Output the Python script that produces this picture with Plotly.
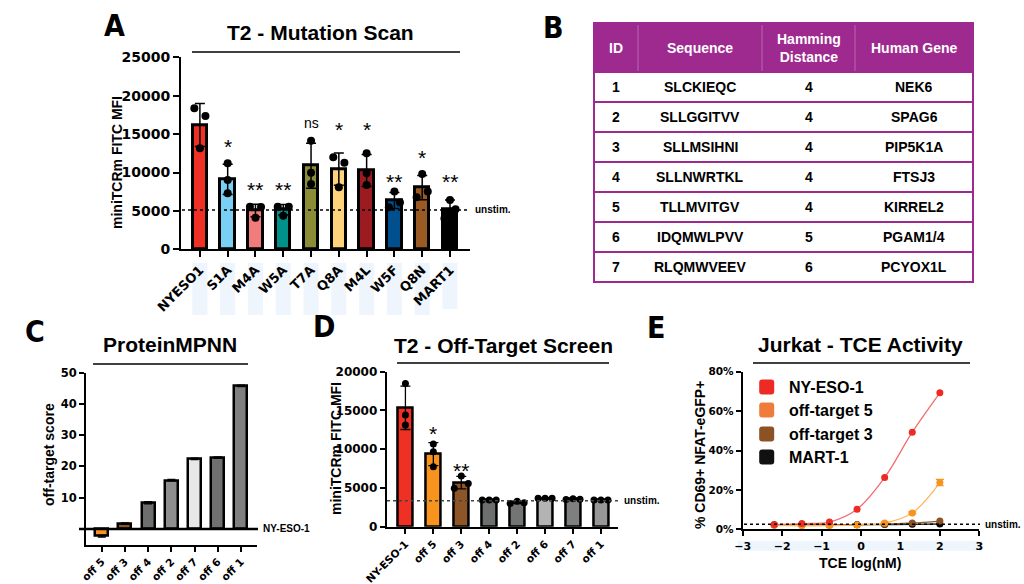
import plotly.graph_objects as go

W, H = 1024, 584
def px(x):
    return x / W
def py(y):
    return 1 - y / H

TICKF = "DejaVu Sans"
LABF = "Liberation Sans"

# ---------------- Panel A data ----------------
a_labels = ["NYESO1", "S1A", "M4A", "W5A", "T7A", "Q8A", "M4L", "W5F", "Q8N", "MART1"]
a_mean = [16190, 9110, 5050, 5160, 10880, 10440, 10260, 6350, 8030, 5210]
a_sd = [2800, 1960, 820, 680, 2930, 2090, 2080, 1050, 1590, 1210]
a_rep1 = [18360, 11200, 5550, 5550, 14150, 11980, 12500, 7510, 9810, 6420]
a_rep2 = [17360, 9030, 5500, 5550, 9980, 11280, 9900, 6080, 7510, 5210]
a_rep3 = [13150, 7290, 4100, 4370, 8500, 8070, 8380, 5470, 6770, 4000]
a_sig = ["", "*", "**", "**", "ns", "*", "*", "**", "*", "**"]
a_sig_y = [0, 14020, 8380, 8380, 16320, 16190, 16190, 9460, 12590, 9460]
a_unstim = 5120
a_colors = ["#EE3124", "#7ACFF5", "#F27C7C", "#00918B", "#8A8D35", "#FDD47C",
            "#9B1B20", "#00508F", "#9A5A24", "#000000"]
a_yticks = [0, 5000, 10000, 15000, 20000, 25000]

# ---------------- Panel B data ----------------
b_header = ["ID", "Sequence", "Hamming<br>Distance", "Human Gene"]
b_id = ["1", "2", "3", "4", "5", "6", "7"]
b_seq = ["SLCKIEQC", "SLLGGITVV", "SLLMSIHNI", "SLLNWRTKL", "TLLMVITGV", "IDQMWLPVV", "RLQMWVEEV"]
b_ham = ["4", "4", "4", "4", "4", "5", "6"]
b_gene = ["NEK6", "SPAG6", "PIP5K1A", "FTSJ3", "KIRREL2", "PGAM1/4", "PCYOX1L"]

# ---------------- Panel C data ----------------
c_labels = ["off 5", "off 3", "off 4", "off 2", "off 7", "off 6", "off 1"]
c_vals = [-2.3, 1.7, 8.4, 15.6, 22.4, 22.8, 45.8]
c_err = [0.3, 0.2, 0.3, 0.2, 0.2, 0.2, 0.2]
c_colors = ["#F7941D", "#8E5626", "#6D6E6E", "#8E8E8E", "#E8E8E8", "#6F706F", "#808080"]
c_yticks = [10, 20, 30, 40, 50]

# ---------------- Panel D data ----------------
d_labels = ["NY-ESO-1", "off 5", "off 3", "off 4", "off 2", "off 6", "off 7", "off 1"]
d_mean = [15340, 9360, 5690, 3440, 3140, 3660, 3550, 3440]
d_sd = [2800, 1490, 800, 60, 150, 60, 60, 60]
d_rep1 = [18490, 10670, 6540, 3440, 3000, 3660, 3500, 3440]
d_rep2 = [14410, 9680, 5590, 3440, 3300, 3660, 3600, 3440]
d_rep3 = [13120, 7740, 4950, 3440, 3100, 3660, 3550, 3440]
d_sig = ["", "*", "**", "", "", "", "", ""]
d_sig_y = [0, 12690, 7870, 0, 0, 0, 0, 0]
d_unstim = 3350
d_colors = ["#EE3124", "#F7941D", "#8E5626", "#6D6E6E", "#737474", "#B3B3B3", "#7E7F7F", "#979797"]
d_yticks = [0, 5000, 10000, 15000, 20000]

# ---------------- Panel E data ----------------
e_x = [-2.2, -1.5, -0.8, -0.1, 0.6, 1.3, 2.0]
e_series = ["NY-ESO-1", "off-target 5", "off-target 3", "MART-1"]
e_nyeso = [2.4, 2.9, 3.7, 10.2, 26.3, 49.3, 69.3]
e_off5 = [2.0, 1.8, 1.9, 2.2, 3.2, 8.3, 23.7]
e_off5_err = [0.2, 0.2, 0.2, 0.2, 0.3, 0.5, 1.6]
e_off3 = [2.3, 2.3, 2.3, 2.4, 2.6, 3.2, 4.2]
e_mart1 = [2.2, 2.2, 2.2, 2.3, 2.4, 2.5, 2.7]
e_unstim = 2.5
e_xticks = [-3, -2, -1, 0, 1, 2, 3]
e_yticks = [0, 20, 40, 60, 80]
e_yticktext = ["0%", "20%", "40%", "60%", "80%"]

# horizontal jitter of replicate dots (layout only)
a_j = [[-0.2, 0, -0.2, -0.2, 0, -0.2, 0, 0, 0, 0],
       [0.2, 0, 0.2, 0.2, 0, 0.2, 0, 0.2, 0.2, 0.2],
       [0, 0, 0, 0, 0, 0, 0, -0.2, -0.2, -0.2]]
d_j = [[0, 0, 0, -0.25, -0.25, -0.25, -0.25, -0.25],
       [0, 0, 0.25, 0, 0, 0, 0, 0],
       [0, 0, -0.25, 0.25, 0.25, 0.25, 0.25, 0.25]]

fig = go.Figure()

# ---- A bars
ax = list(range(len(a_labels)))
fig.add_trace(go.Bar(x=ax, y=a_mean, width=0.52, marker=dict(color=a_colors, line=dict(color="black", width=3)),
                     error_y=dict(type="data", array=a_sd, color="black", thickness=1.5, width=5),
                     xaxis="x", yaxis="y", showlegend=False))
for reps, jit in zip([a_rep1, a_rep2, a_rep3], a_j):
    fig.add_trace(go.Scatter(x=[i + j for i, j in zip(ax, jit)], y=reps, mode="markers",
                             marker=dict(color="black", size=8), xaxis="x", yaxis="y", showlegend=False))

# ---- C bars
cx = list(range(len(c_labels)))
fig.add_trace(go.Bar(x=cx, y=c_vals, width=0.56, marker=dict(color=c_colors, line=dict(color="black", width=2.5)),
                     error_y=dict(type="data", array=c_err, color="black", thickness=1.5, width=4),
                     xaxis="x2", yaxis="y2", showlegend=False))

# ---- D bars
dx = list(range(len(d_labels)))
fig.add_trace(go.Bar(x=dx, y=d_mean, width=0.54, marker=dict(color=d_colors, line=dict(color="black", width=2.5)),
                     error_y=dict(type="data", array=d_sd, color="black", thickness=1.3, width=5),
                     xaxis="x3", yaxis="y3", showlegend=False))
for reps, jit in zip([d_rep1, d_rep2, d_rep3], d_j):
    fig.add_trace(go.Scatter(x=[i + j for i, j in zip(dx, jit)], y=reps, mode="markers",
                             marker=dict(color="black", size=7), xaxis="x3", yaxis="y3", showlegend=False))

# ---- E curves
e_line_cols = ["#F26D6D", "#FDB863", "#8B5A2B", "#222222"]
e_mark_cols = ["#EE2A24", "#F7941D", "#8D5126", "#000000"]
e_data = [e_nyeso, e_off5, e_off3, e_mart1]
for k in [3, 2, 1, 0]:
    fig.add_trace(go.Scatter(x=e_x, y=e_data[k], mode="lines", line=dict(color=e_line_cols[k], width=1.3, shape="spline"),
                             xaxis="x4", yaxis="y4", showlegend=False, hoverinfo="skip"))
for k in [3, 2, 1, 0]:
    err = dict(type="data", array=e_off5_err, color=e_mark_cols[1], thickness=1.2, width=4) if k == 1 else None
    fig.add_trace(go.Scatter(x=e_x, y=e_data[k], mode="markers", name=e_series[k],
                             marker=dict(color=e_mark_cols[k], size=7), error_y=err,
                             xaxis="x4", yaxis="y4", showlegend=False))

def axcommon(**kw):
    d = dict(showline=True, linecolor="black", linewidth=2, ticks="outside", tickcolor="black",
             tickwidth=2, ticklen=5, showgrid=False, zeroline=False, fixedrange=True, automargin=False)
    d.update(kw)
    return d

layout = dict(
    width=W, height=H, margin=dict(l=0, r=0, t=0, b=0, autoexpand=False), autosize=False,
    paper_bgcolor="white", plot_bgcolor="rgba(0,0,0,0)", showlegend=False, bargap=0,
    xaxis=axcommon(domain=[px(181), px(470)], range=[-0.68, 9.72], anchor="y", tickvals=ax, ticktext=a_labels,
                   tickangle=-45, ticklen=6, tickfont=dict(family=TICKF, size=13, color="black", weight="bold")),
    yaxis=axcommon(domain=[py(249.3), py(57.3)], range=[0, 25000], anchor="x", tickvals=a_yticks, tickformat="d",
                   ticklen=6, tickfont=dict(family=TICKF, size=14, color="black", weight="bold")),
    xaxis2=axcommon(domain=[px(86), px(257)], range=[-0.68, 6.69], anchor="y2", tickvals=cx, ticktext=c_labels,
                    tickangle=-45, tickfont=dict(family=TICKF, size=10.5, color="black", weight="bold")),
    yaxis2=axcommon(domain=[py(544.6), py(372.7)], range=[-5, 50], anchor="x2", tickvals=c_yticks,
                    tickfont=dict(family=TICKF, size=11.5, color="black", weight="bold")),
    xaxis3=axcommon(domain=[px(386.7), px(618)], range=[-0.67, 7.61], anchor="y3", tickvals=dx, ticktext=d_labels,
                    tickangle=-45, tickfont=dict(family=TICKF, size=10.5, color="black", weight="bold")),
    yaxis3=axcommon(domain=[py(526.7), py(371.7)], range=[0, 20000], anchor="x3", tickvals=d_yticks, tickformat="d",
                    tickfont=dict(family=TICKF, size=12, color="black", weight="bold")),
    xaxis4=axcommon(domain=[px(742.7), px(979.3)], range=[-3, 3], anchor="y4", tickvals=e_xticks,
                    tickfont=dict(family=TICKF, size=11, color="black", weight="bold")),
    yaxis4=axcommon(domain=[py(529.3), py(371.7)], range=[0, 80], anchor="x4", tickvals=e_yticks, ticktext=e_yticktext,
                    tickfont=dict(family=TICKF, size=10.5, color="black", weight="bold")),
)
fig.update_layout(**layout)

shapes = []
ann = []

def text(x, y, s, size, xanchor="center", yanchor="middle", xref="paper", yref="paper", angle=0,
         family=LABF, bold=True, yshift=0, color="black"):
    ann.append(dict(x=x, y=y, xref=xref, yref=yref, text=s, showarrow=False, xanchor=xanchor, yanchor=yanchor,
                    textangle=angle, yshift=yshift,
                    font=dict(family=family, size=size, color=color, weight="bold" if bold else "normal")))

# ---- B table (drawn with shapes and text)
purple = "#9E2A90"
col_edges = [594, 638, 762, 855, 973]
tb_top, hdr_bot, row_h = 23, 72, 30
n_rows = len(b_id)
shapes.append(dict(type="rect", xref="paper", yref="paper", x0=px(col_edges[0]), x1=px(col_edges[-1]),
                   y0=py(hdr_bot), y1=py(tb_top), fillcolor=purple, line=dict(color=purple, width=2)))
for xe in col_edges[1:-1]:
    shapes.append(dict(type="line", xref="paper", yref="paper", x0=px(xe), x1=px(xe), y0=py(hdr_bot - 1),
                       y1=py(tb_top + 2), line=dict(color="#B866AD", width=1)))
for r in range(n_rows):
    y0 = hdr_bot + r * row_h
    shapes.append(dict(type="rect", xref="paper", yref="paper", x0=px(col_edges[0]), x1=px(col_edges[-1]),
                       y0=py(y0 + row_h), y1=py(y0), fillcolor="rgba(0,0,0,0)", line=dict(color=purple, width=2)))
col_cent = [(col_edges[i] + col_edges[i + 1]) / 2 for i in range(4)]
for c, h in zip(col_cent, b_header):
    text(px(c), py((tb_top + hdr_bot) / 2), h, 14, color="white")
for ci, col in enumerate([b_id, b_seq, b_ham, b_gene]):
    for r, v in enumerate(col):
        text(px(col_cent[ci]), py(hdr_bot + r * row_h + row_h / 2), v, 14)

# light label highlight boxes (as in reference)
for i in ax:
    bot = 315 if i < 9 else 309
    shapes.append(dict(type="rect", xref="x", yref="paper", x0=i - 0.27, x1=i + 0.27, y0=py(bot), y1=py(263),
                       fillcolor="#EEF5FC", line=dict(width=0), layer="below"))
shapes.append(dict(type="rect", xref="paper", yref="paper", x0=px(738), x1=px(983), y0=py(550.7), y1=py(540.7),
                   fillcolor="#EEF5FC", line=dict(width=0), layer="below"))

# title underlines
for x0, x1, y in [(192, 460, 52), (93, 248, 364), (397, 609, 363), (753, 970, 363)]:
    shapes.append(dict(type="line", xref="paper", yref="paper", x0=px(x0), x1=px(x1), y0=py(y), y1=py(y),
                       line=dict(color="black", width=1.5)))

# unstim dotted lines
shapes.append(dict(type="line", xref="paper", yref="y", x0=px(182), x1=px(468), y0=a_unstim, y1=a_unstim,
                   line=dict(color="black", width=1.5, dash="dot")))
shapes.append(dict(type="line", xref="paper", yref="y3", x0=px(387), x1=px(618), y0=d_unstim, y1=d_unstim,
                   line=dict(color="#444444", width=1.5, dash="dot")))
shapes.append(dict(type="line", xref="paper", yref="y4", x0=px(744), x1=px(980), y0=e_unstim, y1=e_unstim,
                   line=dict(color="black", width=1.5, dash="dot")))
# C zero (NY-ESO-1 reference) line
shapes.append(dict(type="line", xref="paper", yref="y2", x0=px(79), x1=px(258), y0=0, y1=0,
                   line=dict(color="black", width=2.5)))

text(px(473), a_unstim, "unstim.", 10, xanchor="left", yref="y")
text(px(622), d_unstim, "unstim.", 10, xanchor="left", yref="y3")
text(px(983), e_unstim, "unstim.", 10, xanchor="left", yref="y4")
text(px(261), 0, "NY-ESO-1", 10, xanchor="left", yref="y2")

# significance marks
for i, (s, y) in enumerate(zip(a_sig, a_sig_y)):
    if s:
        if s == "ns":
            text(i, y, s, 14, xref="x", yref="y", bold=False, yshift=1)
        else:
            text(i, y, s, 21, xref="x", yref="y", bold=False, yshift=-5)
for i, (s, y) in enumerate(zip(d_sig, d_sig_y)):
    if s:
        text(i, y, s, 21, xref="x3", yref="y3", bold=False, yshift=-5)

# titles
text(px(320), py(33), "T2 - Mutation Scan", 21)
text(px(170), py(344), "ProteinMPNN", 21)
text(px(503), py(345), "T2 - Off-Target Screen", 21)
text(px(860), py(344), "Jurkat - TCE Activity", 21)

# axis titles
text(px(117), py(163), "miniTCRm FITC MFI", 14, angle=-90)
text(px(49), py(455), "off-target score", 14, angle=-90)
text(px(336), py(449), "miniTCRm FITC MFI", 14, angle=-90)
text(px(700), py(455), "% CD69+ NFAT-eGFP+", 14, angle=-90)
text(px(860), py(563), "TCE log(nM)", 14)

# panel letters
LETF = "Liberation Sans Narrow, DejaVu Sans Condensed, Roboto Condensed, Liberation Sans, sans-serif"
for L, x, y in [("A", 114, 26), ("B", 553.5, 27), ("C", 35, 331), ("D", 324, 326), ("E", 656, 327)]:
    text(px(x), py(y), L, 30, family=LETF)

# legend for panel E (rounded squares + labels)
leg_y = [387, 410, 434, 457]
sq = "M -7.5,-4.5 Q -7.5,-7.5 -4.5,-7.5 L 4.5,-7.5 Q 7.5,-7.5 7.5,-4.5 L 7.5,4.5 Q 7.5,7.5 4.5,7.5 L -4.5,7.5 Q -7.5,7.5 -7.5,4.5 Z"
leg_cols = ["#EE2A24", "#F07C3C", "#8D5126", "#111111"]
for name, col, y in zip(e_series, leg_cols, leg_y):
    shapes.append(dict(type="path", xref="paper", yref="paper", xsizemode="pixel", ysizemode="pixel",
                       xanchor=px(766.7), yanchor=py(y), path=sq, fillcolor=col, line=dict(width=0)))
    text(px(786.7), py(y), name, 16, xanchor="left")

fig.update_layout(shapes=shapes, annotations=ann)
fig.write_html("out.html", config={"displayModeBar": False},
               post_script="document.body.style.margin='0';document.body.style.padding='0';")
